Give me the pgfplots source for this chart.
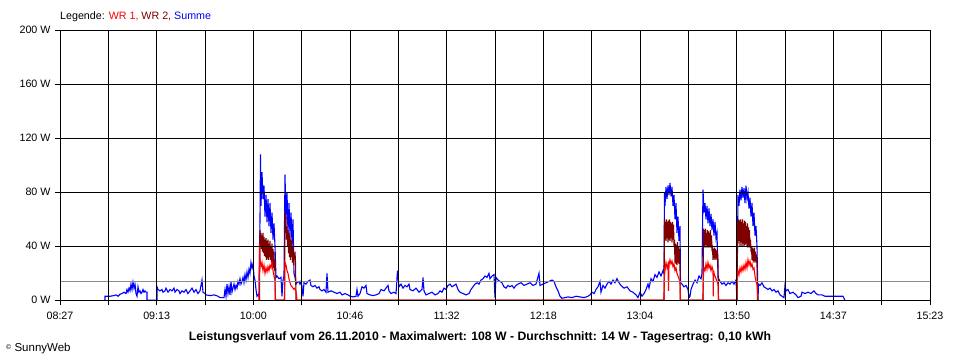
\documentclass[border=0pt]{standalone}
\usepackage{pgfplots}
\pgfplotsset{compat=1.18}
\usepackage{fontspec}
\setmainfont{Liberation Sans}
\definecolor{wrone}{RGB}{255,0,0}
\definecolor{wrtwo}{RGB}{128,0,0}
\definecolor{summe}{RGB}{0,0,255}
\definecolor{avg}{RGB}{140,140,140}
\begin{document}
\begin{tikzpicture}
\useasboundingbox (0,0) rectangle (960bp,360bp);
\begin{axis}[
  at={(60bp,59.7bp)}, anchor=south west,
  scale only axis, width=870bp, height=270bp,
  xmin=60, xmax=930, ymin=0, ymax=200,
  axis on top,
  xtick={60,156.667,253.333,350,446.667,543.333,640,736.667,833.333,930},
  xticklabels={08:27,09:13,10:00,10:46,11:32,12:18,13:04,13:50,14:37,15:23},
  minor xtick={108.333,205,301.667,398.333,495,591.667,688.333,785,881.667},
  ytick={0,40,80,120,160,200},
  yticklabels={0 W,40 W,80 W,120 W,160 W,200 W},
  grid=both,
  major grid style={black, line width=1bp},
  minor grid style={black, line width=1bp},
  axis line style={black, line width=1bp},
  tick align=outside, tick pos=left,
  major tick length=5bp, minor tick length=5bp,
  every tick/.style={black, line width=1bp},
  minor tick style={black, line width=1bp},
  tick label style={font=\fontsize{10.7bp}{12bp}\selectfont},
  xticklabel style={yshift=-3bp},
  yticklabel style={xshift=-1bp},
]
% Summe (blue)
\addplot[summe, line width=1.1bp] coordinates {
(105,0) (105,3) (110,3) (114,3.5) (116,4) (118,3) (120,4.5) (122,5) (124,6) (126,5) (127,8) (128,6) (129,9) (130,7) (131,12) (132,8) (133,13.5) (134,9) (135,12) (136,5) (137,3) (138,10) (139,6) (140,7) (141,5) (142,6) (143,8) (144,6) (145,7) (146,6) (147,6) (147,0)
(157,0) (157,10) (158,8) (160,7) (162,8) (163,6) (165,7) (166,9) (168,6) (170,8) (172,7) (174,9) (175,6) (177,8) (179,7) (180,5) (182,7) (184,6) (186,8) (188,5) (190,7) (192,9) (194,6) (196,8) (198,5) (200,7) (202,15) (203,6) (205,5) (206,4) (210,3.5) (214,4) (218,3) (220,2) (224,2) (225,8) (226,3) (227,12) (228,5) (229,10) (230,4) (231,14) (232,6) (233,9) (234,12) (235,8) (236,11) (237,9) (238,14) (239,12) (240,16) (241,12) (242,14) (243,17) (244,13) (245,19) (246,15) (247,21) (248,17) (249,23) (250,20) (251,28) (252,24) (253,27) (254,18) (255,15) (256,8) (257,3) (258,4) (259,3)
(260,60) (260.5,108) (261,70) (262,95) (263,75) (264,85) (265,62) (266,78) (267,58) (268,75) (269,55) (270,72) (271,50) (272,65) (273,45) (274,57) (275,40) (276,17) (277,18) (279,16) (281,17) (282,3) (283,15) (284,18)
(285,93) (286,60) (287,80) (288,50) (289,72) (290,48) (291,65) (292,42) (293,60) (294,20) (295,17) (296,12) (297,13) (299,14) (300,12) (301,14) (302,10) (303,3) (304,13) (306,12) (308,14) (310,15) (311,11) (313,10) (315,11) (317,9) (319,10) (320,8) (322,7) (324,8) (326,6) (327,20) (328,6) (331,7) (334,6) (337,5) (340,6) (342,4) (345,5) (348,4) (350,3) (353,2.5) (356,3) (357,8) (358,3) (360,5) (362,10) (364,9) (366,11) (367,5) (370,4) (373,3.5) (376,4) (379,5) (381,8) (384,7) (386,9) (388,11) (389,7) (391,5) (394,6) (396,5) (397.5,22) (399,10) (401,12) (403,9) (405,11) (407,10) (409,12) (410,8) (413,7) (416,9) (419,6) (422,8) (423,17) (424,7) (426,4) (429,5) (432,6) (435,4) (438,5) (440,7) (442,6) (444,9) (446,8) (448,11)
(450,12) (452,10) (454,11) (456,12) (458,8) (460,6) (463,5) (466,4) (469,5) (471,8) (473,10) (475,12) (477,13) (479,12) (481,15) (483,16) (485,18) (487,17) (489,20) (490,16) (492,18) (494,19) (495,2) (496,17) (498,15) (500,14) (502,13) (504,10) (506,9) (508,11) (510,10) (512,11) (514,9) (516,11) (518,12) (521,13) (524,11) (527,12) (530,13) (533,11) (536,12) (539,20) (540,11) (543,12) (546,13) (549,14) (552,15) (554,14) (556,10) (558,7) (560,3) (562,1.5) (565,2) (568,2.5) (572,2) (576,3) (580,2.5) (584,2) (588,3) (590,4) (592,6) (594,5) (596,8) (598,10) (600,14) (601,6) (603,11) (605,9) (607,12) (609,14) (611,12) (613,15) (615,13) (617,16) (619,13) (621,11) (624,9) (627,10) (630,7) (633,6) (636,4) (638,2) (640,6) (642,3) (644,5) (646,8) (648,12) (649,9) (651,16) (653,14) (655,19) (657,17) (659,21) (661,18) (663,22) (664,20)
(664.5,80) (665,70) (666,84) (667,75) (668,85) (669,78) (670,87) (671,77) (672,84) (673,70) (674,78) (675,60) (676,72) (677,50) (678,62) (679,44) (680,55) (680.5,13) (682,12) (684,10) (686,11) (688,8) (689,2) (690,3) (691,8) (693,12) (695,15) (697,13) (699,18) (701,16) (702,20)
(703,82) (704,65) (705,72) (706,60) (707,70) (708,57) (709,68) (710,55) (711,64) (712,52) (713,60) (714,48) (715,58) (716,46) (717,50) (718,17) (720,14) (722,12) (724,13) (726,11) (728,13) (730,12) (732,14) (734,12) (736,15) (737,0)
(738,78) (739,70) (740,82) (741,74) (742,84) (743,76) (744,83) (745,72) (746,85) (747,75) (748,80) (749,68) (750,76) (751,62) (752,72) (753,55) (754,65) (755,48) (756,55) (757,40) (758,0)
(758.5,12) (760,11) (762,13) (764,10) (766,9) (768,8) (770,9) (772,7) (774,8) (776,6) (778,7) (780,4) (782,3) (784,2) (785,11) (786,7) (788,8) (790,5) (793,6) (796,4) (798,2) (801,3) (802,6) (805,5) (808,6) (811,5) (814,7) (816,5) (818,4) (822,4) (825,3) (830,3) (835,3) (840,3) (843,3) (845,0)
};
% WR 2 (dark red)
\addplot[wrtwo, line width=1.1bp] coordinates {
(259.5,0) (260,52) (260.5,40) (261,50) (261.5,38) (262,48) (262.5,36) (263,50) (263.5,35) (264,47) (264.5,33) (265,45) (265.5,32) (266,46) (266.5,30) (267,44) (267.5,31) (268,45) (268.5,30) (269,42) (269.5,32) (270,44) (270.5,30) (271,40) (271.5,28) (272,42) (272.5,26) (273,38) (273.5,24) (274,36) (274.5,22) (275,30) (275.2,0)
(284.5,0) (285,65) (285.5,50) (286,62) (286.5,45) (287,55) (287.5,40) (288,52) (288.5,35) (289,50) (289.5,32) (290,48) (290.5,30) (291,45) (291.5,32) (292,44) (292.5,28) (293,40) (293.5,26) (294,35) (294.5,30) (295,36) (295.5,28) (296,0)
(664,0) (664.5,60) (665,45) (665.5,58) (666,44) (666.5,60) (667,46) (667.5,58) (668,43) (668.5,59) (669,45) (669.5,60) (670,44) (670.5,58) (671,46) (671.5,57) (672,43) (672.5,58) (673,45) (673.5,56) (674,42) (674.5,43) (675,28) (675.5,42) (676,27) (676.5,41) (677,26) (677.5,43) (678,28) (678.5,40) (679,27) (679.5,38) (680,26) (680.3,0)
(703,0) (703.5,53) (704,40) (704.5,52) (705,39) (705.5,53) (706,41) (706.5,50) (707,39) (707.5,52) (708,40) (708.5,51) (709,39) (709.5,50) (710,40) (710.5,52) (711,39) (711.5,48) (712,38) (712.5,39) (713,30) (713.5,38) (714,31) (714.5,39) (715,30) (715.5,38) (716,31) (716.5,37) (717,30) (717.5,36) (718,30) (718.5,0)
(737,0) (737.5,58) (738,42) (738.5,60) (739,44) (739.5,59) (740,40) (740.5,60) (741,43) (741.5,58) (742,40) (742.5,60) (743,42) (743.5,57) (744,40) (744.5,59) (745,41) (745.5,58) (746,42) (746.5,55) (747,40) (747.5,57) (748,39) (748.5,54) (749,40) (749.5,52) (750,39) (750.5,45) (751,36) (751.5,40) (752,30) (752.5,39) (753,29) (753.5,38) (754,28) (754.5,39) (755,29) (755.5,36) (756,28) (756.5,34) (757,27) (757.5,0)
};
% WR 1 (red)
\addplot[wrone, line width=1.1bp] coordinates {
(259,0) (259.5,42) (260,30) (261,25) (262,28) (263,22) (264,26) (265,20) (266,24) (267,21) (268,25) (269,22) (270,26) (271,24) (272,28) (273,22) (274,18) (275,15) (275.5,0)
(284.5,0) (285,28) (286,26) (287,22) (288,20) (289,16) (290,13) (291,11) (292,10) (293,9) (294,8) (295,9) (296,7) (297,0)
(664,0) (664.5,25) (665,22) (666,28) (667,24) (668,27) (668.5,7) (669,26) (670,30) (671,27) (672,29) (673,25) (674,27) (675,22) (676,24) (677,20) (678,18) (679,16) (680,13) (680.5,0)
(703,0) (703.5,20) (704,24) (705,22) (706,27) (707,23) (708,28) (709,24) (710,26) (711,22) (712,25) (713,22) (713.3,3) (713.6,22) (714,20) (715,18) (716,16) (717,14) (718,12) (718.5,0)
(737,0) (737.5,18) (738,22) (739,19) (740,24) (741,21) (742,25) (743,22) (744,26) (745,23) (746,28) (747,24) (748,30) (749,26) (750,29) (751,25) (752,27) (753,23) (754,24) (755,18) (756,14) (757,12) (758,0)
};
% average line
\addplot[avg, line width=1bp] coordinates {(60,14) (930,14)};
\end{axis}
\node[anchor=west, inner sep=0pt, font=\fontsize{10.7bp}{12bp}\selectfont] at (60bp,343.5bp)
  {Legende: \textcolor{wrone}{WR 1,} \textcolor{wrtwo}{WR 2,} \textcolor{summe}{Summe}};
\node[inner sep=0pt, font=\fontsize{12.2bp}{14bp}\selectfont\bfseries] at (480bp,23bp)
  {Leistungsverlauf vom 26.11.2010 - Maximalwert: 108 W - Durchschnitt: 14 W - Tagesertrag: 0,10 kWh};
\node[anchor=west, inner sep=0pt, font=\fontsize{11.5bp}{13bp}\selectfont] at (6bp,11bp)
  {\raisebox{0.45ex}{\fontsize{7bp}{8bp}\selectfont\textcopyright} SunnyWeb};
\end{tikzpicture}
\end{document}
